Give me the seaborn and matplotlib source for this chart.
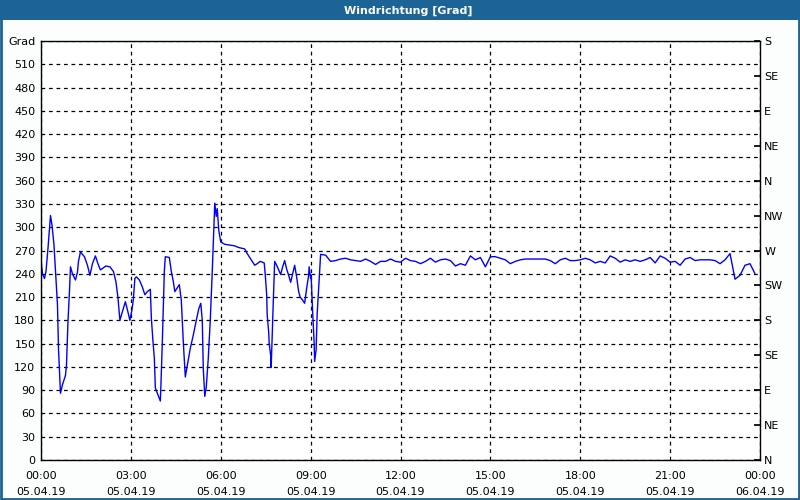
import numpy as np
import pandas as pd
import matplotlib
matplotlib.use("Agg")
import matplotlib.pyplot as plt
import seaborn as sns
from matplotlib.patches import Rectangle
from matplotlib.ticker import MultipleLocator

# minutes after 05.04.19 00:00 and wind direction in degrees
minutes = [0, 3, 7, 10, 14, 19, 22, 26, 29, 33, 35, 38, 39, 43, 49, 51, 54, 57, 59, 63,
           69, 73, 75, 79, 87, 93, 98, 103, 109, 114, 119, 130, 138, 145, 150, 154, 158, 162, 169, 174,
           178, 182, 185, 188, 191, 197, 203, 208, 213, 219, 221, 224, 227, 229, 233, 239, 240, 243, 247, 249,
           257, 261, 265, 268, 273, 277, 281, 285, 288, 289, 292, 299, 305, 311, 316, 320, 323, 325, 328, 331,
           335, 339, 343, 345, 348, 351, 353, 356, 360, 368, 388, 395, 408, 413, 421, 428, 433, 439, 447, 449,
           452, 453, 456, 457, 460, 461, 463, 465, 468, 472, 476, 480, 484, 488, 492, 496, 500, 504, 508, 512,
           516, 519, 524, 528, 532, 536, 537, 540, 541, 544, 547, 548, 551, 553, 556, 560, 570, 580, 590, 600,
           610, 620, 630, 640, 650, 660, 670, 680, 690, 700, 710, 720, 730, 740, 750, 760, 770, 780, 790, 800,
           810, 820, 830, 840, 850, 860, 870, 880, 890, 900, 910, 920, 930, 940, 950, 960, 970, 980, 990, 1000,
           1010, 1020, 1030, 1040, 1050, 1060, 1070, 1080, 1090, 1100, 1110, 1120, 1130, 1140, 1150, 1160, 1170, 1180, 1190, 1200,
           1210, 1220, 1230, 1240, 1250, 1260, 1270, 1280, 1290, 1300, 1310, 1320, 1330, 1340, 1350, 1360, 1370, 1380, 1390, 1400,
           1410, 1420, 1430]
grad = [257, 240, 234, 243, 273, 315, 303, 277, 243, 200, 144, 101, 86, 97, 109, 122, 178, 217, 249, 240,
        232, 242, 256, 268, 262, 251, 238, 253, 263, 253, 245, 250, 249, 243, 230, 210, 180, 189, 204, 191,
        180, 193, 207, 234, 236, 232, 223, 213, 217, 220, 183, 155, 131, 93, 86, 76, 93, 152, 243, 262,
        261, 243, 230, 217, 222, 226, 206, 152, 119, 107, 118, 144, 161, 180, 195, 202, 180, 118, 82, 94,
        131, 180, 243, 279, 331, 314, 324, 296, 281, 278, 276, 274, 272, 266, 258, 251, 253, 256, 254, 240,
        213, 187, 165, 150, 135, 119, 161, 200, 256, 251, 245, 239, 249, 257, 246, 238, 229, 240, 251, 236,
        217, 210, 206, 202, 221, 238, 249, 234, 238, 191, 152, 127, 142, 187, 221, 265, 264, 256, 257, 259,
        260, 258, 257, 256, 259, 256, 252, 256, 256, 259, 256, 255, 260, 257, 256, 253, 256, 260, 255, 258,
        259, 257, 250, 253, 251, 263, 258, 261, 249, 262, 262, 260, 258, 253, 256, 258, 259, 259, 259, 259,
        259, 257, 253, 258, 260, 257, 257, 258, 260, 258, 254, 256, 254, 263, 260, 255, 258, 256, 258, 256,
        258, 261, 254, 263, 260, 255, 256, 251, 259, 261, 257, 258, 258, 258, 257, 253, 258, 266, 233, 238,
        251, 253, 240]

x_labels = ["00:00\n05.04.19", "03:00\n05.04.19", "06:00\n05.04.19", "09:00\n05.04.19",
            "12:00\n05.04.19", "15:00\n05.04.19", "18:00\n05.04.19", "21:00\n05.04.19",
            "00:00\n06.04.19"]
y_labels = [str(v) for v in range(0, 540, 30)] + ["Grad"]
dir_labels = ["N", "NE", "E", "SE", "S", "SW", "W", "NW", "N", "NE", "E", "SE", "S"]

df = pd.DataFrame({"hour": np.array(minutes) / 60.0, "grad": grad})

sns.set_theme(style="white")
plt.rcParams["font.family"] = ["DejaVu Sans"]

fig = plt.figure(figsize=(8, 5), dpi=100)
fig.patch.set_facecolor("#fcfefe")

# title bar and blue frame
blue = "#1c6396"
fig.patches.append(Rectangle((0, 0.96), 1, 0.04, transform=fig.transFigure,
                             facecolor=blue, edgecolor="none", zorder=0))
fig.patches.append(Rectangle((0.001, 0.002), 0.9975, 0.99, transform=fig.transFigure,
                             facecolor="none", edgecolor=blue, linewidth=2, zorder=0))
fig.text(0.51, 0.979, "Windrichtung [Grad]", color="white", fontsize=8,
         fontweight="bold", ha="center", va="center")

ax = fig.add_axes([41 / 800, 40 / 500, 719 / 800, 419 / 500])
ax.set_facecolor("white")
sns.lineplot(data=df, x="hour", y="grad", ax=ax, color="#0000ff", linewidth=1)

ax.set_xlim(0, 24)
ax.set_ylim(0, 540)
ax.set_xlabel("")
ax.set_ylabel("")

ax.set_xticks(range(0, 25, 3))
ax.set_xticklabels(x_labels, fontsize=8, linespacing=1.7)
ax.xaxis.set_minor_locator(MultipleLocator(1))
ax.tick_params(axis="x", which="both", direction="in", length=4, color="black",
               labelcolor="black", pad=8)

ax.set_yticks(range(0, 541, 30))
ax.set_yticklabels(y_labels, fontsize=8)
ax.tick_params(axis="y", which="both", length=0, pad=4, labelcolor="black")

ax.grid(True, which="major", color="black", linestyle=(0, (3, 3)), linewidth=0.9)
for s in ax.spines.values():
    s.set_color("black")
    s.set_linewidth(1)

ax2 = ax.twinx()
ax2.set_ylim(0, 540)
ax2.set_yticks(range(0, 541, 45))
ax2.set_yticklabels(dir_labels, fontsize=8)
ax2.tick_params(axis="y", direction="in", length=4, color="black", labelcolor="black", pad=3)
ax2.grid(False)
for s in ax2.spines.values():
    s.set_visible(False)

fig.savefig("out.png", dpi=100, facecolor=fig.get_facecolor())
